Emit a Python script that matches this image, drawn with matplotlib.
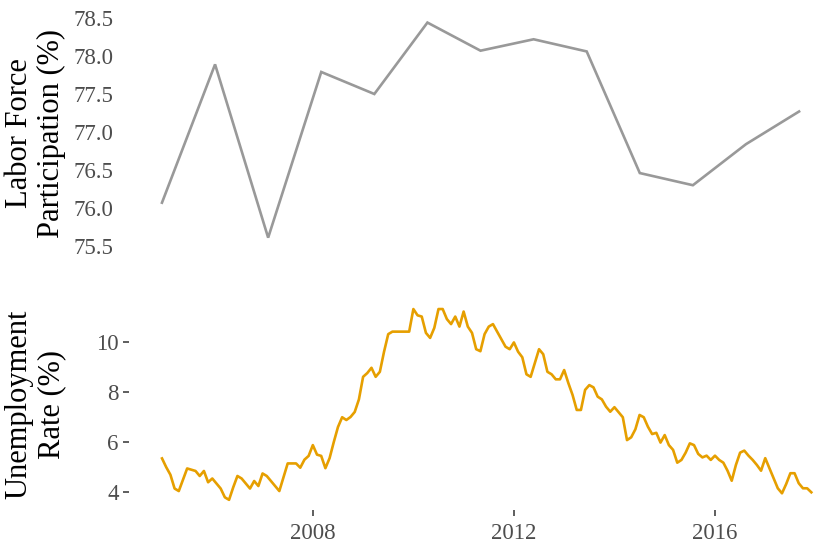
import matplotlib
matplotlib.use("Agg")
import matplotlib.pyplot as plt
import numpy as np

plt.rcParams['font.family'] = ['Liberation Serif', 'DejaVu Serif']

# Annual labor force participation (%)
lfp_years = [2005, 2006, 2007, 2008, 2009, 2010, 2011, 2012, 2013, 2014, 2015, 2016, 2017]
lfp_values = [76.07, 77.89, 75.61, 77.79, 77.50, 78.44, 78.07, 78.22, 78.06, 76.46, 76.30, 76.84, 77.27]

# Monthly unemployment rate (%), Jan 2005 - Dec 2017
unemp_start_year = 2005
unemp_values = [
    5.35, 5.00, 4.70, 4.15, 4.05, 4.50, 4.95, 4.90, 4.85, 4.65, 4.85, 4.40,
    4.55, 4.35, 4.15, 3.80, 3.70, 4.20, 4.65, 4.55, 4.35, 4.15, 4.45, 4.25,
    4.75, 4.65, 4.45, 4.25, 4.05, 4.60, 5.15, 5.15, 5.15, 4.98, 5.30, 5.45,
    5.88, 5.50, 5.45, 4.96, 5.36, 6.00, 6.60, 6.99, 6.88, 7.00, 7.20, 7.70,
    8.60, 8.75, 8.96, 8.60, 8.80, 9.60, 10.30, 10.40, 10.40, 10.40, 10.40, 10.40,
    11.30, 11.05, 11.00, 10.35, 10.15, 10.55, 11.30, 11.30, 10.90, 10.70, 11.00, 10.60,
    11.20, 10.60, 10.35, 9.70, 9.62, 10.30, 10.60, 10.70, 10.40, 10.10, 9.80, 9.70,
    9.97, 9.60, 9.38, 8.70, 8.60, 9.15, 9.70, 9.50, 8.80, 8.70, 8.50, 8.50,
    8.87, 8.35, 7.88, 7.28, 7.28, 8.08, 8.27, 8.18, 7.81, 7.70, 7.41, 7.21,
    7.39, 7.19, 6.99, 6.08, 6.19, 6.51, 7.08, 6.99, 6.61, 6.32, 6.37, 5.98,
    6.28, 5.88, 5.69, 5.18, 5.29, 5.58, 5.95, 5.88, 5.53, 5.39, 5.46, 5.29,
    5.46, 5.29, 5.18, 4.86, 4.46, 5.09, 5.58, 5.66, 5.46, 5.29, 5.09, 4.86,
    5.36, 4.96, 4.56, 4.16, 3.96, 4.33, 4.76, 4.76, 4.36, 4.16, 4.16, 4.00,
]
unemp_x = unemp_start_year + np.arange(len(unemp_values)) / 12.0

lfp_yticks = [75.5, 76.0, 76.5, 77.0, 77.5, 78.0, 78.5]
unemp_yticks = [4, 6, 8, 10]
unemp_xticks = [2008, 2012, 2016]

W, H = 815, 543
fig = plt.figure(figsize=(W / 100, H / 100), dpi=100)

def px_axes(left, top, right, bottom):
    return fig.add_axes([left / W, 1 - bottom / H, (right - left) / W, (bottom - top) / H])

tick_color = '#4D4D4D'

# Top panel
ax1 = px_axes(129, 12, 815, 254)
ax1.plot(lfp_years, lfp_values, color='#999999', lw=1.9, solid_joinstyle='miter')
ax1.set_xlim(2004.379, 2017.30)
ax1.set_ylim(75.395, 78.579)
ax1.set_yticks(lfp_yticks)
ax1.set_yticklabels([f"{v:.1f}" for v in lfp_yticks])
ax1.set_xticks([])
ax1.tick_params(axis='y', length=0, pad=11, labelsize=16.5, labelcolor=tick_color)
for s in ax1.spines.values():
    s.set_visible(False)
ax1.set_ylabel("Labor Force\nParticipation (%)", fontsize=22, color='black', linespacing=1.15)
ax1.yaxis.set_label_coords((66 - 129) / 686, 0.5)

# Bottom panel
ax2 = px_axes(129, 299, 815, 510)
ax2.plot(unemp_x, unemp_values, color='#E69F00', lw=1.9)
ax2.set_xlim(2004.343, 2017.99)
ax2.set_ylim(3.295, 11.70)
ax2.set_yticks(unemp_yticks)
ax2.set_xticks(unemp_xticks)
ax2.set_xticklabels([str(v) for v in unemp_xticks])
ax2.tick_params(axis='both', length=4.5, width=1.1, color='#333333',
                labelsize=16.5, labelcolor=tick_color)
ax2.tick_params(axis='y', pad=3)
ax2.tick_params(axis='x', pad=5)
for s in ax2.spines.values():
    s.set_visible(False)
ax2.set_ylabel("Unemployment\nRate (%)", fontsize=22, color='black', linespacing=1.15)
ax2.yaxis.set_label_coords((66 - 129) / 686, 0.5)

fig.savefig("out.png", dpi=100, facecolor='white')
